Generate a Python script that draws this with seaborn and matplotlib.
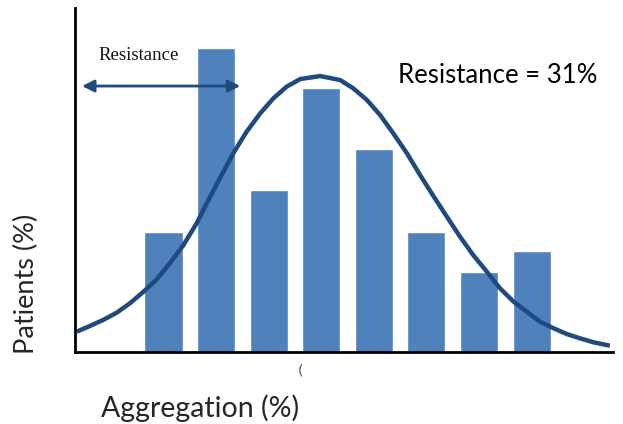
import matplotlib as mpl
mpl.use('agg')
import matplotlib.pyplot as plt
import numpy as np
import pandas as pd
import seaborn as sns

# Bar data (aggregation bins vs patient share)
bins = [1, 2, 3, 4, 5, 6, 7, 8]
patients = [12.0, 30.4, 16.2, 26.4, 20.3, 12.0, 8.0, 10.1]

# Fitted curve, points
curve_x = [-0.65, -0.40, -0.15, 0.11, 0.36, 0.62, 0.87, 1.12, 1.38, 1.63,
           1.82, 2.08, 2.33, 2.58, 2.84, 3.09, 3.34, 3.60, 3.98, 4.36,
           4.61, 4.87, 5.12, 5.37, 5.63, 5.88, 6.13, 6.39, 6.64, 6.89,
           7.15, 7.40, 7.66, 7.91, 8.16, 8.42, 8.67, 8.92, 9.18, 9.49]
curve_y = [2.03, 2.60, 3.20, 3.93, 4.87, 6.03, 7.27, 8.87, 10.7, 12.87,
           14.85, 17.45, 19.9, 22.03, 23.87, 25.37, 26.53, 27.3, 27.6, 27.2,
           26.37, 25.2, 23.7, 21.87, 19.87, 17.7, 15.63, 13.53, 11.53, 9.7,
           8.03, 6.37, 5.03, 4.03, 3.03, 2.37, 1.80, 1.37, 0.97, 0.63]

bars = pd.DataFrame({"bin": bins, "patients": patients})
curve = pd.DataFrame({"x": curve_x, "y": curve_y})

sns.set_style("white")

bar_color = "#4F81BD"
line_color = "#1F4A7E"

fig = plt.figure(figsize=(6.23, 4.24), dpi=100)
ax = fig.add_axes([0.1204, 0.1698, 0.8636, 0.8112])

sns.barplot(data=bars, x="bin", y="patients", native_scale=True, width=0.723,
            color=bar_color, saturation=1, ax=ax)
sns.lineplot(data=curve, x="x", y="y", color=line_color, linewidth=3.2,
             solid_joinstyle="round", solid_capstyle="butt", ax=ax)

ax.set_xlim(-0.683, 9.55)
ax.set_ylim(0, 34.4)
ax.set_xticks([])
ax.set_yticks([])
ax.set_xlabel("")
ax.set_ylabel("")
for side in ["top", "right"]:
    ax.spines[side].set_visible(False)
for side in ["left", "bottom"]:
    ax.spines[side].set_color("black")
    ax.spines[side].set_linewidth(2)

# Resistance arrow
ax.annotate("", xy=(-0.55, 26.6), xytext=(2.46, 26.6),
            arrowprops=dict(arrowstyle="<|-|>", color=line_color, lw=2,
                            mutation_scale=18, shrinkA=0, shrinkB=0))
ax.text(0.53, 29.7, "Resistance", family="Liberation Serif", fontsize=13.5,
        ha="center", va="center", color="#111111")
ax.text(5.46, 27.7, "Resistance = 31%", family="Lato", fontsize=18.5,
        ha="left", va="center", color="black")

fig.text(0.482, 0.127, "(", fontsize=10, color="#555555", ha="center", va="center")
fig.text(0.042, 0.33, "Patients (%)", rotation=90, family="Lato", fontsize=19.5,
         ha="center", va="center")
fig.text(0.321, 0.037, "Aggregation (%)", family="Lato", fontsize=20.5,
         ha="center", va="center")

fig.savefig("out.png", dpi=100)
